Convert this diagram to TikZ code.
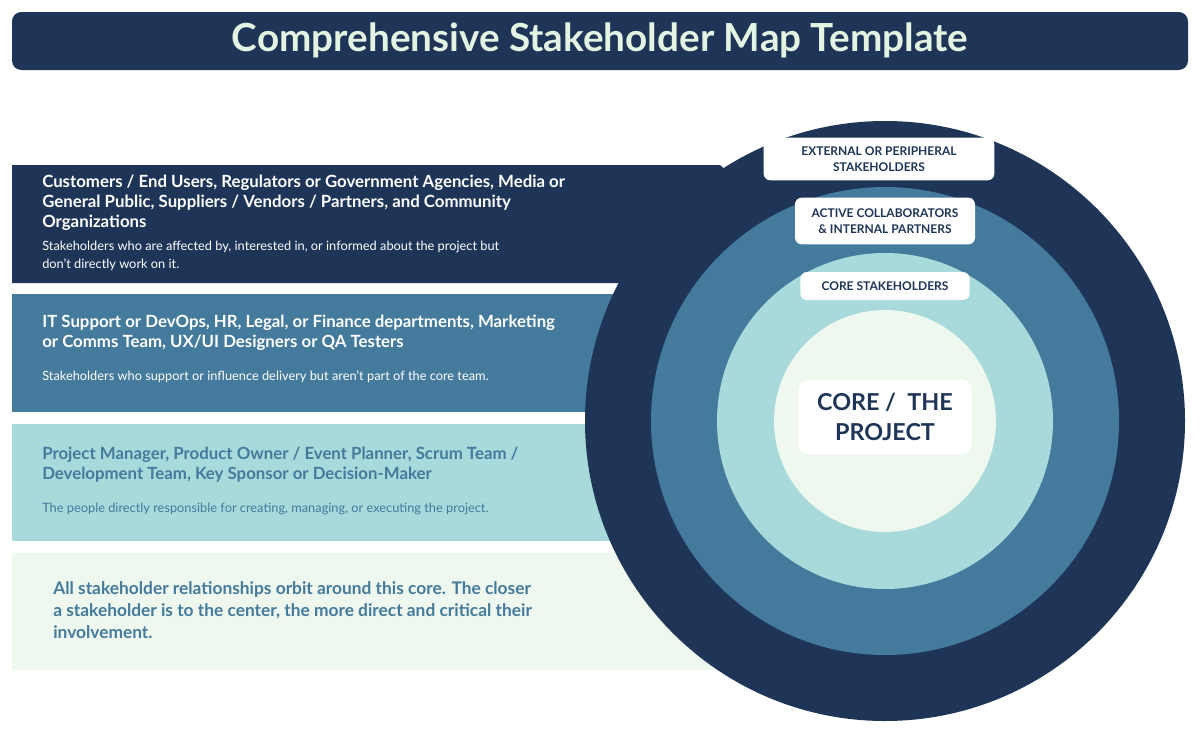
\documentclass[tikz,border=0pt]{standalone}
\usepackage{fontspec}
\setmainfont{Lato}
\definecolor{navy}{HTML}{1E3557}
\definecolor{steel}{HTML}{447A9C}
\definecolor{teal}{HTML}{A8D9DB}
\definecolor{mint}{HTML}{EEF8EE}
\definecolor{titletxt}{HTML}{E4F4E2}
\begin{document}
\begin{tikzpicture}[x=0.75pt,y=-0.75pt,
  head/.style={anchor=north west,align=left,font=\bfseries\fontsize{12.6}{15}\selectfont,inner sep=0},
  sub/.style={anchor=north west,align=left,font=\fontsize{9.6}{13.5}\selectfont,inner sep=0},
  tag/.style={fill=white,rounded corners=5pt,align=center,font=\bfseries\fontsize{9}{12.5}\selectfont,text=navy,inner sep=0}]
\useasboundingbox (0,0) rectangle (1200,732);
\fill[white] (0,0) rectangle (1200,732);
\fill[navy,rounded corners=7pt] (12,12) rectangle (1188,70);
\node[text=titletxt,font=\bfseries\fontsize{29}{32}\selectfont] (title) at (600,40) {Comprehensive Stakeholder Map Template};
% bands
\fill[navy] (12,165) -- (720,165) -- (760,200) -- (760,283) -- (12,283) -- cycle;
\fill[steel] (12,294) rectangle (760,412);
\fill[teal] (12,424) rectangle (760,541);
\fill[mint] (12,553) rectangle (760,670);
% circles
\fill[navy] (885,421) circle (300);
\fill[steel] (885,421) circle (234);
\fill[teal] (885,421) circle (168);
\fill[mint] (885,421) circle (111);
% band texts
\node[head,text=white] (h1) at (42,175) {Customers / End Users, Regulators or Government Agencies, Media or\\General Public, Suppliers / Vendors / Partners, and Community\\Organizations};
\node[sub,text=white] (s1) at (42,241) {Stakeholders who are affected by, interested in, or informed about the project but\\don’t directly work on it.};
\node[head,text=white] (h2) at (42,315) {IT Support or DevOps, HR, Legal, or Finance departments, Marketing\\or Comms Team, UX/UI Designers or QA Testers};
\node[sub,text=white] (s2) at (42,370) {Stakeholders who support or influence delivery but aren’t part of the core team.};
\node[head,text=steel] (h3) at (42,447) {Project Manager, Product Owner / Event Planner, Scrum Team /\\Development Team, Key Sponsor or Decision-Maker};
\node[sub,text=steel] (s3) at (42,503) {The people directly responsible for creating, managing, or executing the project.};
\node[head,text=steel,font=\bfseries\fontsize{13}{16.5}\selectfont] (h4) at (53,581) {All stakeholder relationships orbit around this core. The closer\\a stakeholder is to the center, the more direct and critical their\\involvement.};
% tags
\node[tag,minimum width=173,minimum height=32] (t1) at (879,159) {EXTERNAL OR PERIPHERAL\\STAKEHOLDERS};
\node[tag,minimum width=135,minimum height=35] (t2) at (885,221) {ACTIVE COLLABORATORS\\\& INTERNAL PARTNERS};
\node[tag,minimum width=127,minimum height=21] (t3) at (885,286) {CORE STAKEHOLDERS};
\node[tag,rounded corners=8pt,minimum width=130,minimum height=56,font=\bfseries\fontsize{17.5}{23}\selectfont] (core) at (885,417) {CORE / ~THE\\PROJECT};
\end{tikzpicture}
\end{document}
